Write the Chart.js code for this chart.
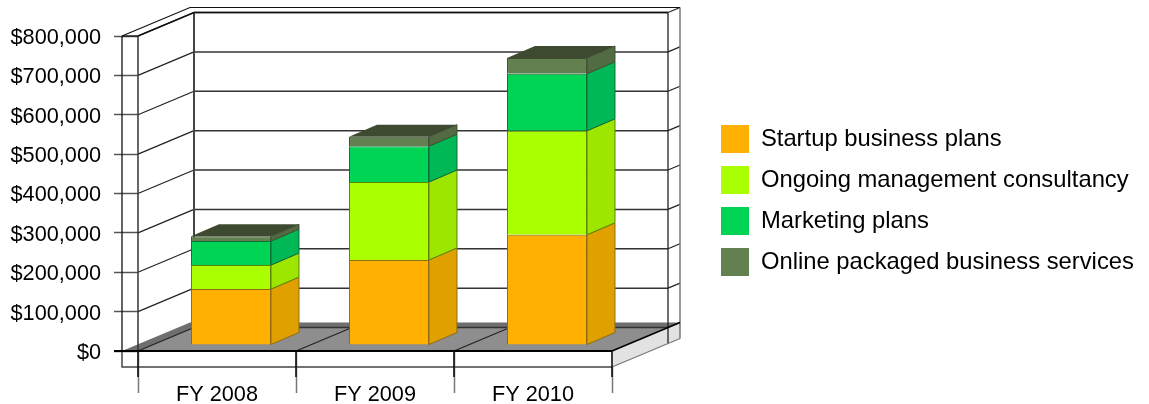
<!DOCTYPE html>
<html>
<head>
<meta charset="utf-8">
<style>
  html, body { margin: 0; padding: 0; background: #fff; }
  #wrap { width: 1149px; height: 404px; }
</style>
<script src="https://cdn.jsdelivr.net/npm/chart.js@4/dist/chart.umd.min.js"></script>
</head>
<body>
<div id="wrap"><canvas id="revenueChart" width="1149" height="404"></canvas></div>
<script>
const categories = ['FY 2008', 'FY 2009', 'FY 2010'];
const startupPlans = [142000, 216000, 280000];
const ongoingConsultancy = [61000, 198000, 264000];
const marketingPlans = [61000, 91000, 145000];
const onlineServices = [12000, 24000, 40000];
const yTicks = [0, 100000, 200000, 300000, 400000, 500000, 600000, 700000, 800000];

const FONT = '"Liberation Sans", Arial, sans-serif';

// wall depth, and the depth of a bar plus how far it sits in from the front
const WALL_DX = 56, WALL_DY = -23.5;
const BAR_DX = 28, BAR_DY = -12;
const BAR_IN_X = 14, BAR_IN_Y = -6;
const FLOOR_DX = 68, FLOOR_DY = -28.5;
const LEFT_EDGE = 122, SLAB = 16;

const palette = [
  { front: '#FFB000', side: '#E0A000', line: '#8F6C12' },
  { front: '#AAFF00', side: '#9CE600', line: '#5C8208' },
  { front: '#00D455', side: '#00B855', line: '#0A6E36' },
  { front: '#638050', side: '#526B42', line: '#3F5034' }
];
const TOP_FACE = '#3D4A30';

function line(ctx, pts, color, width) {
  ctx.beginPath();
  pts.forEach((p, i) => i ? ctx.lineTo(p[0], p[1]) : ctx.moveTo(p[0], p[1]));
  ctx.strokeStyle = color;
  ctx.lineWidth = width;
  ctx.stroke();
}

function quad(ctx, pts, fill) {
  ctx.beginPath();
  pts.forEach((p, i) => i ? ctx.lineTo(p[0], p[1]) : ctx.moveTo(p[0], p[1]));
  ctx.closePath();
  ctx.fillStyle = fill;
  ctx.fill();
}

// Box walls, floor slab and back grid, all hung off the real scales
function drawRoom(chart) {
  const { ctx, chartArea: a, scales } = chart;
  const left = a.left, right = a.right, base = a.bottom, top = a.top;

  // floor slab
  quad(ctx, [[right, base], [right + FLOOR_DX, base + FLOOR_DY], [right + FLOOR_DX, base + FLOOR_DY + SLAB], [right, base + SLAB]], '#E2E2E2');
  quad(ctx, [[LEFT_EDGE, base], [right, base], [right + FLOOR_DX, base + FLOOR_DY], [LEFT_EDGE + FLOOR_DX, base + FLOOR_DY]], '#6F6F6F');
  quad(ctx, [[left, base], [right, base], [right + WALL_DX, base + WALL_DY], [left + WALL_DX, base + WALL_DY]], '#8E8E8E');

  // back wall grid, side wall lines and the little stubs on the right
  yTicks.forEach(v => {
    const y = scales.y.getPixelForValue(v);
    const by = y + WALL_DY;
    line(ctx, [[left, y], [left + WALL_DX, by]], '#222', 1.2);
    line(ctx, [[left + WALL_DX, by], [right + WALL_DX, by]], '#333', 1.5);
    if (v > 0) line(ctx, [[right + WALL_DX, by], [right + FLOOR_DX, y + FLOOR_DY]], '#222', 1.2);
  });

  // floor divisions between categories
  for (let i = 1; i < categories.length; i++) {
    const x = left + (right - left) * i / categories.length;
    line(ctx, [[x, base], [x + WALL_DX, base + WALL_DY]], '#222', 1.2);
  }

  // verticals
  line(ctx, [[left + WALL_DX, top + WALL_DY], [left + WALL_DX, base + WALL_DY]], '#444', 2);
  line(ctx, [[right + WALL_DX, top + WALL_DY], [right + WALL_DX, base + WALL_DY + SLAB]], '#222', 1.3);
  line(ctx, [[right + FLOOR_DX, top + FLOOR_DY], [right + FLOOR_DX, base + FLOOR_DY + SLAB]], '#777', 1.5);
  line(ctx, [[left, top], [left, base]], '#333', 1.5);
  line(ctx, [[LEFT_EDGE, top], [LEFT_EDGE, base]], '#111', 1.3);
  line(ctx, [[LEFT_EDGE, base], [LEFT_EDGE, base + SLAB], [right, base + SLAB]], '#444', 1.5);

  // top rim
  line(ctx, [[left, top], [left + WALL_DX, top + WALL_DY], [right + WALL_DX, top + WALL_DY]], '#111', 1.5);
  line(ctx, [[LEFT_EDGE, top], [LEFT_EDGE + FLOOR_DX, top + FLOOR_DY], [right + FLOOR_DX, top + FLOOR_DY]], '#111', 1.2);
  line(ctx, [[LEFT_EDGE, top], [left, top]], '#111', 1.3);

  // front edges
  line(ctx, [[right, base], [right + FLOOR_DX, base + FLOOR_DY]], '#000', 1.6);
  line(ctx, [[right, base + SLAB], [right + FLOOR_DX, base + FLOOR_DY + SLAB]], '#777', 1.2);
  line(ctx, [[114, base], [right, base]], '#000', 2);
  for (let i = 0; i <= categories.length; i++) {
    const x = left + (right - left) * i / categories.length;
    line(ctx, [[x, base], [x, base + 26]], '#111', 1.6);
  }
}

// Side and top faces for each stacked segment
function drawBarFaces(chart) {
  const ctx = chart.ctx;
  const last = chart.data.datasets.length - 1;
  chart.data.datasets.forEach((ds, d) => {
    chart.getDatasetMeta(d).data.forEach(bar => {
      const r = bar.x + bar.width / 2, l = bar.x - bar.width / 2;
      const pts = [[r, bar.base], [r + BAR_DX, bar.base + BAR_DY], [r + BAR_DX, bar.y + BAR_DY], [r, bar.y]];
      quad(ctx, pts, palette[d].side);
      line(ctx, pts.concat([pts[0]]), palette[d].line, 1);
      if (d === last) {
        quad(ctx, [[l, bar.y], [r, bar.y], [r + BAR_DX, bar.y + BAR_DY], [l + BAR_DX, bar.y + BAR_DY]], TOP_FACE);
      }
    });
  });
}

const box3d = {
  id: 'box3d',
  afterLayout(chart) {
    // the legend is set on its own spot right of the box
    const lg = chart.legend;
    lg.left = 708;
    lg.right = 1149;
    lg.top = 0;
    lg.bottom = 401;
    lg.width = lg.right - lg.left;
    lg.height = lg.bottom - lg.top;
  },
  beforeDatasetsDraw(chart) {
    drawRoom(chart);
    chart.ctx.save();
    chart.ctx.translate(BAR_IN_X, BAR_IN_Y);
    drawBarFaces(chart);
  },
  afterDatasetsDraw(chart) {
    chart.ctx.restore();
  }
};

const makeSet = (label, data, i) => ({
  label,
  data,
  backgroundColor: palette[i].front,
  borderColor: palette[i].line,
  borderWidth: 1,
  categoryPercentage: 1,
  barPercentage: 0.506,
  clip: false
});

new Chart(document.getElementById('revenueChart'), {
  type: 'bar',
  data: {
    labels: categories,
    datasets: [
      makeSet('Startup business plans', startupPlans, 0),
      makeSet('Ongoing management consultancy', ongoingConsultancy, 1),
      makeSet('Marketing plans', marketingPlans, 2),
      makeSet('Online packaged business services', onlineServices, 3)
    ]
  },
  plugins: [box3d],
  options: {
    responsive: false,
    animation: false,
    layout: { padding: { top: 36, left: 0, right: 333, bottom: 0 } },
    plugins: {
      tooltip: { enabled: false },
      legend: {
        position: 'right',
        onClick: null,
        labels: {
          boxWidth: 28,
          boxHeight: 28,
          padding: 13,
          color: '#000',
          font: { family: FONT, size: 23.8 },
          // plain swatches, no outline
          generateLabels(chart) {
            return Chart.defaults.plugins.legend.labels.generateLabels(chart).map(item => ({ ...item, lineWidth: 0 }));
          }
        }
      }
    },
    scales: {
      x: {
        stacked: true,
        afterFit(scale) { scale.height = 53; },
        border: { display: false },
        grid: { drawOnChartArea: false, tickLength: 42, tickColor: '#777', tickWidth: 1.5 },
        ticks: { color: '#000', padding: -11, maxRotation: 0, font: { family: FONT, size: 21.7 } }
      },
      y: {
        stacked: true,
        min: 0,
        max: 800000,
        afterFit(scale) { scale.width = 138; },
        afterBuildTicks(scale) { scale.ticks = yTicks.map(value => ({ value })); },
        border: { display: false },
        grid: { drawOnChartArea: false, tickLength: 24, tickColor: '#555', tickWidth: 1.5 },
        ticks: {
          color: '#000',
          padding: 13,
          labelOffset: 2,
          font: { family: FONT, size: 21.7 },
          callback: v => '$' + v.toLocaleString('en-US')
        }
      }
    }
  }
});
</script>
</body>
</html>
